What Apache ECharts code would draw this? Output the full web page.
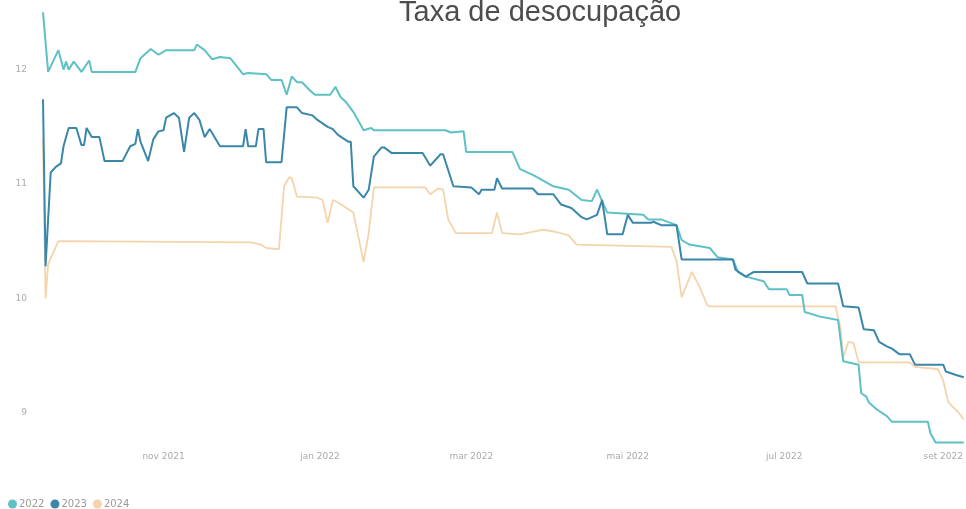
<!DOCTYPE html>
<html>
<head>
<meta charset="utf-8">
<script src="https://cdn.jsdelivr.net/npm/echarts@6/dist/echarts.min.js"></script>
<style>html,body{margin:0;padding:0;background:#fff;}#chart{width:966px;height:509px;}</style>
</head>
<body>
<div id="chart"></div>
<script>
const seriesNames = ['2022', '2023', '2024'];

const dates2022 = ['2021-09-15','2021-09-17','2021-09-21','2021-09-23','2021-09-24','2021-09-25','2021-09-27','2021-09-30','2021-10-03','2021-10-04','2021-10-21','2021-10-23','2021-10-27','2021-10-30','2021-11-02','2021-11-13','2021-11-14','2021-11-17','2021-11-20','2021-11-23','2021-11-27','2021-12-02','2021-12-04','2021-12-11','2021-12-13','2021-12-17','2021-12-19','2021-12-21','2021-12-23','2021-12-25','2021-12-28','2021-12-30','2022-01-05','2022-01-07','2022-01-09','2022-01-11','2022-01-14','2022-01-16','2022-01-18','2022-01-21','2022-01-22','2022-02-19','2022-02-21','2022-02-26','2022-02-27','2022-03-17','2022-03-20','2022-03-25','2022-04-02','2022-04-08','2022-04-13','2022-04-17','2022-04-19','2022-04-21','2022-04-23','2022-05-07','2022-05-09','2022-05-14','2022-05-20','2022-05-22','2022-05-25','2022-06-02','2022-06-05','2022-06-11','2022-06-13','2022-06-16','2022-06-23','2022-06-25','2022-07-02','2022-07-03','2022-07-08','2022-07-09','2022-07-15','2022-07-22','2022-07-24','2022-07-30','2022-07-31','2022-08-02','2022-08-03','2022-08-06','2022-08-10','2022-08-12','2022-08-26','2022-08-27','2022-08-29','2022-09-09'];
const values2022 = [12.50,11.98,12.17,12.00,12.07,12.00,12.07,11.98,12.08,11.98,11.98,12.10,12.18,12.13,12.17,12.17,12.22,12.17,12.09,12.11,12.10,11.96,11.97,11.96,11.91,11.91,11.78,11.94,11.89,11.89,11.82,11.78,11.78,11.85,11.76,11.72,11.63,11.55,11.47,11.49,11.47,11.47,11.45,11.46,11.28,11.28,11.13,11.08,10.98,10.95,10.86,10.85,10.95,10.85,10.75,10.73,10.69,10.69,10.64,10.51,10.47,10.44,10.36,10.34,10.23,10.19,10.15,10.08,10.08,10.03,10.03,9.88,9.84,9.81,9.45,9.42,9.17,9.14,9.09,9.03,8.97,8.92,8.92,8.82,8.74,8.74];

const dates2023 = ['2021-09-15','2021-09-16','2021-09-18','2021-09-20','2021-09-22','2021-09-23','2021-09-25','2021-09-28','2021-09-30','2021-10-01','2021-10-02','2021-10-04','2021-10-07','2021-10-09','2021-10-16','2021-10-19','2021-10-21','2021-10-22','2021-10-23','2021-10-26','2021-10-28','2021-10-30','2021-11-01','2021-11-02','2021-11-05','2021-11-07','2021-11-09','2021-11-11','2021-11-13','2021-11-15','2021-11-17','2021-11-19','2021-11-23','2021-12-02','2021-12-03','2021-12-04','2021-12-07','2021-12-08','2021-12-10','2021-12-11','2021-12-17','2021-12-19','2021-12-23','2021-12-25','2021-12-29','2021-12-31','2022-01-04','2022-01-06','2022-01-08','2022-01-12','2022-01-13','2022-01-14','2022-01-18','2022-01-20','2022-01-22','2022-01-25','2022-01-26','2022-01-29','2022-02-10','2022-02-13','2022-02-17','2022-02-18','2022-02-22','2022-03-01','2022-03-04','2022-03-05','2022-03-10','2022-03-11','2022-03-13','2022-03-25','2022-03-27','2022-04-02','2022-04-05','2022-04-09','2022-04-13','2022-04-15','2022-04-19','2022-04-21','2022-04-22','2022-04-23','2022-04-29','2022-05-01','2022-05-03','2022-05-10','2022-05-11','2022-05-14','2022-05-20','2022-05-22','2022-06-11','2022-06-12','2022-06-16','2022-06-19','2022-07-08','2022-07-10','2022-07-22','2022-07-24','2022-07-30','2022-08-01','2022-08-05','2022-08-07','2022-08-10','2022-08-12','2022-08-15','2022-08-19','2022-08-21','2022-09-01','2022-09-02','2022-09-06','2022-09-09'];
const values2023 = [11.74,10.28,11.10,11.15,11.18,11.33,11.49,11.49,11.34,11.34,11.49,11.41,11.41,11.20,11.20,11.33,11.35,11.48,11.37,11.20,11.39,11.46,11.47,11.58,11.62,11.58,11.28,11.58,11.62,11.56,11.41,11.48,11.33,11.33,11.48,11.33,11.33,11.48,11.48,11.19,11.19,11.67,11.67,11.62,11.60,11.56,11.50,11.48,11.43,11.37,11.37,10.98,10.88,10.95,11.24,11.32,11.32,11.27,11.27,11.16,11.26,11.26,10.98,10.97,10.91,10.95,10.95,11.05,10.96,10.96,10.91,10.91,10.82,10.79,10.71,10.69,10.73,10.86,10.71,10.56,10.56,10.73,10.66,10.66,10.67,10.64,10.64,10.34,10.34,10.25,10.19,10.23,10.23,10.13,10.13,9.93,9.92,9.73,9.72,9.62,9.58,9.56,9.51,9.51,9.42,9.42,9.36,9.33,9.31];

const dates2024 = ['2021-09-15','2021-09-16','2021-09-17','2021-09-21','2021-12-05','2021-12-09','2021-12-11','2021-12-16','2021-12-18','2021-12-20','2021-12-21','2021-12-23','2021-12-31','2022-01-02','2022-01-04','2022-01-06','2022-01-08','2022-01-12','2022-01-14','2022-01-18','2022-01-20','2022-01-22','2022-02-11','2022-02-13','2022-02-16','2022-02-18','2022-02-20','2022-02-23','2022-03-09','2022-03-11','2022-03-13','2022-03-20','2022-03-29','2022-04-03','2022-04-08','2022-04-11','2022-05-18','2022-05-20','2022-05-22','2022-05-26','2022-05-29','2022-06-01','2022-06-02','2022-07-21','2022-07-23','2022-07-24','2022-07-26','2022-07-28','2022-07-30','2022-08-19','2022-08-21','2022-08-30','2022-09-01','2022-09-03','2022-09-07','2022-09-09'];
const values2024 = [11.40,10.00,10.30,10.50,10.49,10.47,10.44,10.43,10.98,11.06,11.05,10.89,10.88,10.86,10.66,10.86,10.84,10.78,10.75,10.32,10.57,10.97,10.97,10.91,10.96,10.95,10.69,10.57,10.57,10.75,10.57,10.56,10.60,10.58,10.55,10.47,10.45,10.33,10.01,10.23,10.10,9.94,9.93,9.93,9.73,9.48,9.62,9.61,9.44,9.44,9.40,9.38,9.28,9.09,9.00,8.94];

const tickDates = ['2021-11-01','2022-01-01','2022-03-01','2022-05-01','2022-07-01','2022-09-01'];
const tickLabels = ['nov 2021','jan 2022','mar 2022','mai 2022','jul 2022','set 2022'];
const yTicks = [9, 10, 11, 12];

const toTime = s => { const p = s.split('-').map(Number); return new Date(p[0], p[1] - 1, p[2]).getTime(); };
const pairs = (ds, vs) => ds.map((d, i) => [toTime(d), vs[i]]);
const tickTimes = tickDates.map(toTime);

const colors = ['#5ec1c5', '#3a87a9', '#f4d4aa'];
const chart = echarts.init(document.getElementById('chart'));
const allData = [pairs(dates2022, values2022), pairs(dates2023, values2023), pairs(dates2024, values2024)];

chart.setOption({
  animation: false,
  backgroundColor: '#ffffff',
  color: colors,
  title: {
    text: 'Taxa de desocupação',
    left: 394, top: -7,
    textStyle: { fontFamily: 'Liberation Sans, Arial, sans-serif', fontSize: 29, fontWeight: 'normal', color: '#4d4d4d' }
  },
  legend: {
    data: seriesNames,
    left: 3, top: 494,
    icon: 'circle', itemWidth: 9, itemHeight: 9, itemGap: 6,
    textStyle: { fontFamily: 'DejaVu Sans, sans-serif', fontSize: 10, color: '#9a9a9a', padding: [0, 0, 0, -3] }
  },
  grid: { left: 43, right: 0, top: 1, bottom: 62 },
  xAxis: {
    type: 'value',
    min: toTime('2021-09-15'),
    max: toTime('2022-09-09'),
    axisLine: { show: false },
    axisTick: { show: false },
    splitLine: { show: false },
    axisLabel: {
      customValues: tickTimes,
      margin: 5,
      fontFamily: 'DejaVu Sans, sans-serif',
      fontSize: 9,
      color: '#aaaaaa',
      hideOverlap: false,
      formatter: function (v) {
        for (let i = 0; i < tickTimes.length; i++) {
          if (Math.abs(tickTimes[i] - v) < 86400000) return tickLabels[i];
        }
        return '';
      }
    }
  },
  yAxis: {
    type: 'value',
    min: 8.7, max: 12.6,
    axisLine: { show: false },
    axisTick: { show: false },
    splitLine: { show: false },
    axisLabel: {
      customValues: yTicks,
      margin: 16,
      fontFamily: 'DejaVu Sans, sans-serif',
      fontSize: 9,
      color: '#aaaaaa'
    }
  },
  series: seriesNames.map((n, i) => ({
    name: n,
    type: 'line',
    data: allData[i],
    showSymbol: false,
    symbol: 'circle',
    lineStyle: { width: i === 2 ? 1.8 : 2, color: colors[i] },
    itemStyle: { color: colors[i] },
    z: i === 2 ? 1 : 2 + i
  }))
});
</script>
</body>
</html>
